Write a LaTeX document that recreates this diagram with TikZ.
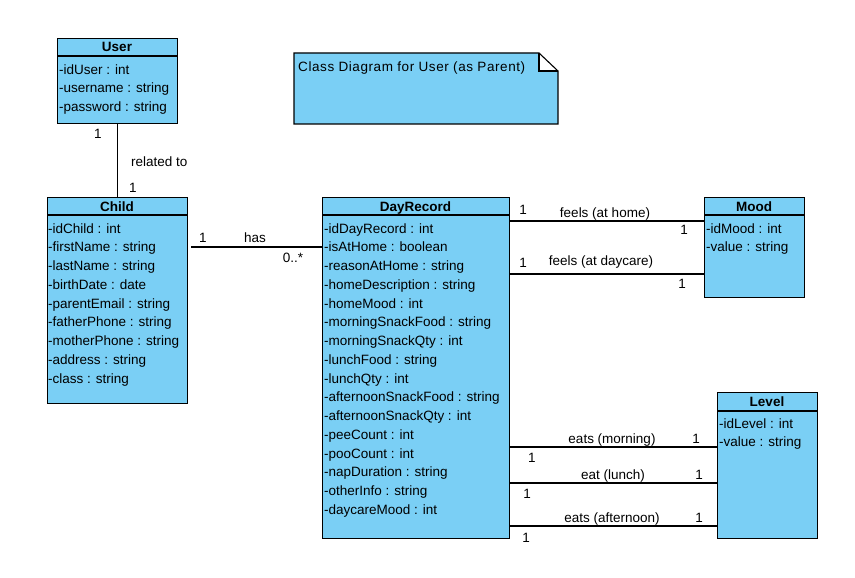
\documentclass[tikz,border=0pt]{standalone}
\usepackage{fontspec}
\setmainfont{Liberation Sans}
\definecolor{classfill}{RGB}{122,207,245}
\begin{document}
\begin{tikzpicture}[x=1pt,y=-1pt,
  txt/.style={font=\fontsize{13.5}{15}\selectfont, inner sep=0pt},
  classbox/.style={draw=black, fill=classfill, line width=1.1pt, rectangle,
                   anchor=north west, inner sep=0pt},
  classtitle/.style={txt, font=\bfseries\fontsize{13.5}{15}\selectfont, anchor=base},
  attr/.style={txt, anchor=base west},
  lbl/.style={txt, anchor=base},
  assoc/.style={draw=black, line width=1.1pt}]
\useasboundingbox (0,0) rectangle (855,578);

% ---------- User ----------
\node[classbox, minimum width=120pt, minimum height=85pt] (user) at (57,38) {};
\draw[line width=1.1pt] (57,56) -- (177,56);
\node[classtitle] (user-t) at (117,52) {User};
\foreach \t [count=\i] in {{-idUser : int},{-username : string},{-password : string}}
  \node[attr] (user-\i) at (59,55.5+18.75*\i) {\t};

% ---------- Note ----------
\fill[classfill] (294,53) -- (539,53) -- (558,71) -- (558,124) -- (294,124) -- cycle;
\fill[white] (539,53) -- (539,71) -- (558,71) -- cycle;
\draw[line width=1.1pt] (294,53) -- (539,53) -- (558,71) -- (558,124) -- (294,124) -- cycle;
\draw[line width=1.1pt] (539,53) -- (539,71) -- (558,71);
\node[attr, font=\fontsize{13.5}{15}\selectfont\addfontfeatures{LetterSpace=4.3}]
  (note) at (298,72) {Class Diagram for User (as Parent)};

% ---------- Child ----------
\node[classbox, minimum width=140pt, minimum height=206pt] (child) at (47,197) {};
\draw[line width=1.1pt] (47,215) -- (187,215);
\node[classtitle] (child-t) at (117,211) {Child};
\foreach \t [count=\i] in {{-idChild : int},{-firstName : string},{-lastName : string},
    {-birthDate : date},{-parentEmail : string},{-fatherPhone : string},
    {-motherPhone : string},{-address : string},{-class : string}}
  \node[attr] (child-\i) at (48,214.25+18.75*\i) {\t};

% ---------- DayRecord ----------
\node[classbox, minimum width=187pt, minimum height=341pt] (dr) at (322,197) {};
\draw[line width=1.1pt] (322,215) -- (509,215);
\node[classtitle] (dr-t) at (415.5,211) {DayRecord};
\foreach \t [count=\i] in {{-idDayRecord : int},{-isAtHome : boolean},
    {-reasonAtHome : string},{-homeDescription : string},{-homeMood : int},
    {-morningSnackFood : string},{-morningSnackQty : int},{-lunchFood : string},
    {-lunchQty : int},{-afternoonSnackFood : string},{-afternoonSnackQty : int},
    {-peeCount : int},{-pooCount : int},{-napDuration : string},
    {-otherInfo : string},{-daycareMood : int}}
  \node[attr] (dr-\i) at (324,214.25+18.75*\i) {\t};

% ---------- Mood ----------
\node[classbox, minimum width=100pt, minimum height=100pt] (mood) at (704,197) {};
\draw[line width=1.1pt] (704,215) -- (804,215);
\node[classtitle] (mood-t) at (754,211) {Mood};
\foreach \t [count=\i] in {{-idMood : int},{-value : string}}
  \node[attr] (mood-\i) at (706,214.25+18.75*\i) {\t};

% ---------- Level ----------
\node[classbox, minimum width=100pt, minimum height=146pt] (level) at (717,392) {};
\draw[line width=1.1pt] (717,411) -- (817,411);
\node[classtitle] (level-t) at (767,406) {Level};
\foreach \t [count=\i] in {{-idLevel : int},{-value : string}}
  \node[attr] (level-\i) at (719,409.25+18.75*\i) {\t};

% ---------- Associations ----------
% User -- Child
\draw[assoc] (user.south) -- (user.south |- child.north);
\node[lbl] (uc-m1) at (98,139) {1};
\node[attr] (uc-name) at (131,166) {related to};
\node[lbl] (uc-m2) at (133,192) {1};

% Child -- DayRecord
\draw[assoc] ([xshift=3pt]child.east |- 0,247) -- (dr.west |- 0,247);
\node[lbl] (cd-m1) at (203,242) {1};
\node[lbl] (cd-name) at (255,242) {has};
\node[lbl] (cd-m2) at (293,262) {0..*};

% DayRecord -- Mood (at home)
\draw[assoc] (dr.east |- 0,221) -- (mood.west |- 0,221);
\node[lbl] (dm1-m1) at (523,214) {1};
\node[lbl] (dm1-name) at (605,217) {feels (at home)};
\node[lbl] (dm1-m2) at (684,234) {1};

% DayRecord -- Mood (at daycare)
\draw[assoc] (dr.east |- 0,274) -- (mood.west |- 0,274);
\node[lbl] (dm2-m1) at (523,267) {1};
\node[lbl] (dm2-name) at (601,265) {feels (at daycare)};
\node[lbl] (dm2-m2) at (682,288) {1};

% DayRecord -- Level (morning)
\draw[assoc] (dr.east |- 0,447) -- (level.west |- 0,447);
\node[lbl] (dl1-name) at (612,443) {eats (morning)};
\node[lbl] (dl1-m2) at (696,443) {1};
\node[lbl] (dl1-m1) at (532,462) {1};

% DayRecord -- Level (lunch)
\draw[assoc] (dr.east |- 0,483) -- (level.west |- 0,483);
\node[lbl] (dl2-name) at (613,479) {eat (lunch)};
\node[lbl] (dl2-m2) at (699,479) {1};
\node[lbl] (dl2-m1) at (527,498) {1};

% DayRecord -- Level (afternoon)
\draw[assoc] (dr.east |- 0,526) -- (level.west |- 0,526);
\node[lbl] (dl3-name) at (612,522) {eats (afternoon)};
\node[lbl] (dl3-m2) at (699,522) {1};
\node[lbl] (dl3-m1) at (526,542) {1};
\end{tikzpicture}
\end{document}
